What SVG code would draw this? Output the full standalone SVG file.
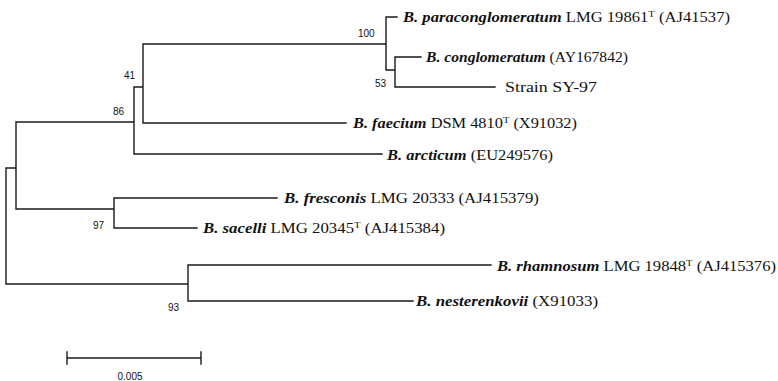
<svg xmlns="http://www.w3.org/2000/svg" width="778" height="381" viewBox="0 0 778 381">
<style>
.br{fill:none;stroke:#1a1a1a;stroke-width:1.4;stroke-linecap:square}
.lb{font-family:"Liberation Serif","DejaVu Serif",serif;font-size:14px;fill:#111}
.it{font-style:italic;font-weight:bold}
.sp{font-size:9px}
.bs{font-family:"Liberation Sans","DejaVu Sans",sans-serif;font-size:10px;fill:#111}
</style>
<rect width="778" height="381" fill="#fff"/>
<g id="connectors">
<path class="br" d="M6,168V284M6,168H16M16,122V209M16,122H134M134,87V154M134,87H143M143,44V123M143,44H386M386,17V70M386,17H397M386,70H395M395,57V87M395,57H421M395,87H495M143,123H346M134,154H382M16,209H114M114,198V228M114,198H277M114,228H197M6,284H188M188,265V301M188,265H491M188,301H413"/>
</g>
<g id="n-paraconglomeratum"><text class="lb" x="403" y="22" textLength="327" lengthAdjust="spacingAndGlyphs"><tspan class="it">B. paraconglomeratum</tspan> LMG 19861<tspan class="sp" dy="-5">T</tspan><tspan dy="5"> (AJ41537)</tspan></text></g>
<g id="n-conglomeratum"><text class="lb" x="426" y="62" textLength="202" lengthAdjust="spacingAndGlyphs"><tspan class="it">B. conglomeratum</tspan> (AY167842)</text></g>
<g id="n-sy97"><text class="lb" x="505" y="92" textLength="92" lengthAdjust="spacingAndGlyphs">Strain SY-97</text></g>
<g id="n-faecium"><text class="lb" x="353" y="128" textLength="224" lengthAdjust="spacingAndGlyphs"><tspan class="it">B. faecium</tspan> DSM 4810<tspan class="sp" dy="-5">T</tspan><tspan dy="5"> (X91032)</tspan></text></g>
<g id="n-arcticum"><text class="lb" x="387" y="160" textLength="166" lengthAdjust="spacingAndGlyphs"><tspan class="it">B. arcticum</tspan> (EU249576)</text></g>
<g id="n-fresconis"><text class="lb" x="284" y="203" textLength="255" lengthAdjust="spacingAndGlyphs"><tspan class="it">B. fresconis</tspan> LMG 20333 (AJ415379)</text></g>
<g id="n-saccelli"><text class="lb" x="203" y="233" textLength="242" lengthAdjust="spacingAndGlyphs"><tspan class="it">B. sacelli</tspan> LMG 20345<tspan class="sp" dy="-5">T</tspan><tspan dy="5"> (AJ415384)</tspan></text></g>
<g id="n-rhamnosum"><text class="lb" x="497" y="271" textLength="279" lengthAdjust="spacingAndGlyphs"><tspan class="it">B. rhamnosum</tspan> LMG 19848<tspan class="sp" dy="-5">T</tspan><tspan dy="5"> (AJ415376)</tspan></text></g>
<g id="n-nesterenkovii"><text class="lb" x="416" y="306" textLength="182" lengthAdjust="spacingAndGlyphs"><tspan class="it">B. nesterenkovii</tspan> (X91033)</text></g>
<g id="bootstrap">
<text class="bs" x="358" y="37">100</text>
<text class="bs" x="375" y="87">53</text>
<text class="bs" x="124" y="79">41</text>
<text class="bs" x="113" y="115">86</text>
<text class="bs" x="93" y="229">97</text>
<text class="bs" x="168" y="311">93</text>
</g>
<g id="scalebar">
<path class="br" d="M67,358H201M67,352V364M201,352V364"/>
<text class="bs" x="130" y="380" text-anchor="middle">0.005</text>
</g>
</svg>
